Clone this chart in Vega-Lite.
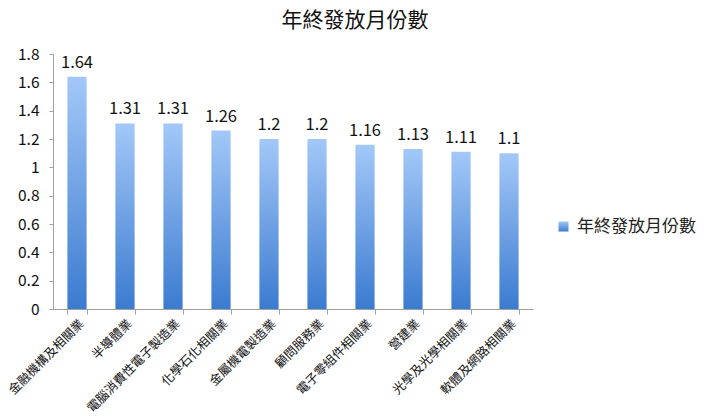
{
  "$schema": "https://vega.github.io/schema/vega-lite/v6.json",
  "width": 480,
  "height": 255,
  "autosize": "none",
  "padding": {"left": 53, "top": 54, "right": 176, "bottom": 110},
  "background": "white",
  "config": {
    "font": "Noto Sans CJK TC",
    "view": {"stroke": null}
  },
  "title": {
    "text": "年終發放月份數",
    "fontSize": 21,
    "fontWeight": "normal",
    "color": "#111111",
    "anchor": "middle",
    "frame": "group",
    "dx": 62,
    "offset": 16
  },
  "data": {
    "values": [
      {"industry": "金融機構及相關業", "months": 1.64},
      {"industry": "半導體業", "months": 1.31},
      {"industry": "電腦消費性電子製造業", "months": 1.31},
      {"industry": "化學石化相關業", "months": 1.26},
      {"industry": "金屬機電製造業", "months": 1.2},
      {"industry": "顧問服務業", "months": 1.2},
      {"industry": "電子零組件相關業", "months": 1.16},
      {"industry": "營建業", "months": 1.13},
      {"industry": "光學及光學相關業", "months": 1.11},
      {"industry": "軟體及網路相關業", "months": 1.1}
    ]
  },
  "encoding": {
    "x": {
      "field": "industry",
      "type": "nominal",
      "sort": null,
      "title": null,
      "scale": {"paddingInner": 0.6, "paddingOuter": 0.3},
      "axis": {
        "labelAngle": -45,
        "labelFontSize": 12.5,
        "labelColor": "#111111",
        "labelPadding": 3,
        "tickBand": "extent",
        "tickSize": 5,
        "tickColor": "#a0a0a0",
        "domainColor": "#a0a0a0"
      }
    },
    "y": {
      "field": "months",
      "type": "quantitative",
      "title": null,
      "scale": {"domain": [0, 1.8]},
      "axis": {
        "values": [0, 0.2, 0.4, 0.6, 0.8, 1, 1.2, 1.4, 1.6, 1.8],
        "format": "~g",
        "grid": false,
        "labelFontSize": 15.5,
        "labelColor": "#111111",
        "labelPadding": 10,
        "tickSize": 4,
        "tickColor": "#a0a0a0",
        "domainColor": "#a0a0a0"
      }
    }
  },
  "layer": [
    {
      "mark": {
        "type": "bar",
        "color": {
          "gradient": "linear",
          "x1": 0, "y1": 0, "x2": 0, "y2": 1,
          "stops": [
            {"offset": 0, "color": "#a3c8f8"},
            {"offset": 1, "color": "#3b7bd0"}
          ]
        }
      },
      "encoding": {
        "opacity": {
          "datum": "年終發放月份數",
          "type": "nominal",
          "scale": {"range": [1, 1]},
          "legend": {
            "title": null,
            "orient": "none",
            "legendX": 502,
            "legendY": 164,
            "symbolType": "square",
            "symbolSize": 100,
            "symbolStrokeWidth": 0,
            "symbolFillColor": "#6a9fe3",
            "symbolOpacity": 1,
            "labelFontSize": 17,
            "labelColor": "#222222",
            "labelOffset": 5
          }
        }
      }
    },
    {
      "mark": {"type": "text", "baseline": "bottom", "dy": -6, "fontSize": 16.5, "color": "#111111"},
      "encoding": {
        "text": {"field": "months", "type": "quantitative"}
      }
    }
  ]
}
